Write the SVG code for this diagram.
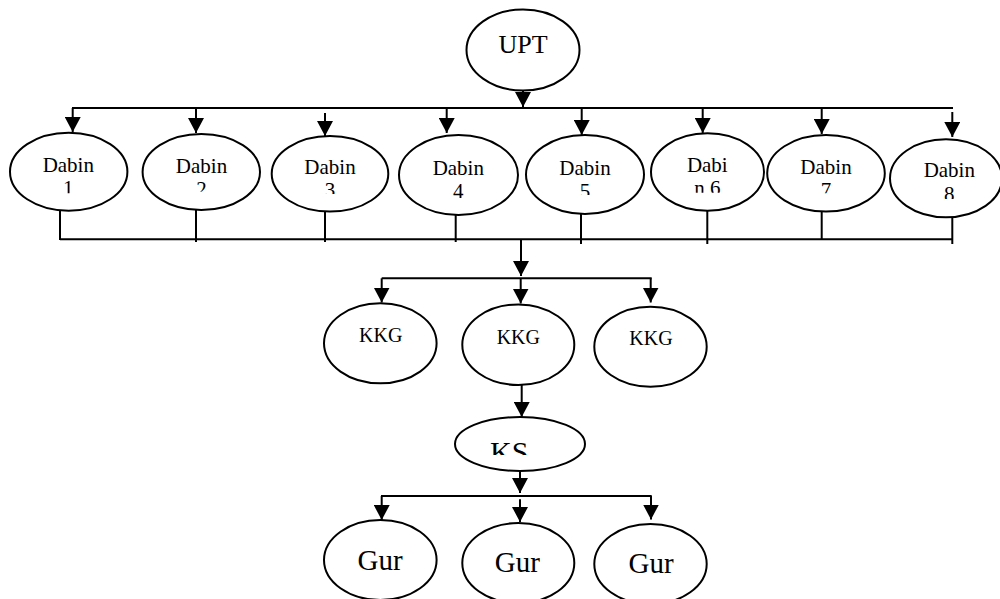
<svg xmlns="http://www.w3.org/2000/svg" width="1000" height="599" viewBox="0 0 1000 599">
<defs>
<style>
.n{fill:#fff;stroke:#000;stroke-width:2}
.t{font-family:"Liberation Serif","Times New Roman",serif;fill:#000;text-anchor:middle}
.d{font-size:21px}
.k{font-size:20px}
.c line{stroke:#000;stroke-width:2}
.a{marker-end:url(#ah)}
</style>
<marker id="ah" viewBox="0 -8 15 16" markerWidth="15" markerHeight="16" refX="15" refY="0" markerUnits="userSpaceOnUse" orient="auto">
<path d="M0,-8 L15,0 L0,8 z" fill="#000"/>
</marker>
<clipPath id="c1"><rect x="0" y="120" width="140" height="73.3"/></clipPath>
<clipPath id="c2"><rect x="140" y="120" width="125" height="71.7"/></clipPath>
<clipPath id="c3"><rect x="268" y="120" width="125" height="74"/></clipPath>
<clipPath id="c5"><rect x="522" y="120" width="125" height="75"/></clipPath>
<clipPath id="c6"><rect x="648" y="120" width="120" height="72.7"/></clipPath>
<clipPath id="c7"><rect x="765" y="120" width="122" height="73.3"/></clipPath>
<clipPath id="c8"><rect x="888" y="120" width="112" height="79"/></clipPath>
<clipPath id="cks"><rect x="455" y="417" width="130" height="38"/></clipPath>
</defs>

<text class="t" x="835" y="-6" style="font-size:28px">g</text>

<g class="c" id="connectors">
<line class="a" x1="523" y1="90" x2="523" y2="107"/>
<line x1="72" y1="108" x2="953" y2="108"/>
<line class="a" x1="72.7" y1="108" x2="72.7" y2="132"/>
<line class="a" x1="196" y1="108" x2="196" y2="133"/>
<line class="a" x1="325" y1="113" x2="325" y2="136"/>
<line class="a" x1="446.7" y1="108" x2="446.7" y2="133"/>
<line class="a" x1="581.7" y1="108" x2="581.7" y2="135"/>
<line class="a" x1="702.7" y1="108" x2="702.7" y2="133"/>
<line class="a" x1="821.7" y1="108" x2="821.7" y2="134"/>
<line class="a" x1="952.3" y1="112" x2="952.3" y2="137"/>

<line x1="60" y1="239.3" x2="953" y2="239.3"/>
<line x1="60" y1="211" x2="60" y2="240"/>
<line x1="196" y1="210" x2="196" y2="242"/>
<line x1="325" y1="211.5" x2="325" y2="242"/>
<line x1="455.7" y1="215" x2="455.7" y2="242"/>
<line x1="581" y1="214" x2="581" y2="244"/>
<line x1="707.3" y1="210.5" x2="707.3" y2="244"/>
<line x1="821.7" y1="211.5" x2="821.7" y2="240"/>
<line x1="952.3" y1="217" x2="952.3" y2="244"/>

<line class="a" x1="521" y1="239" x2="521" y2="276"/>
<line x1="381.7" y1="278.3" x2="651.7" y2="278.3"/>
<line class="a" x1="381.7" y1="278.3" x2="381.7" y2="302.5"/>
<line class="a" x1="520.7" y1="278.3" x2="520.7" y2="303.5"/>
<line class="a" x1="650.7" y1="278.3" x2="650.7" y2="302.5"/>

<line class="a" x1="521.7" y1="385" x2="521.7" y2="417"/>

<line class="a" x1="520" y1="470.7" x2="520" y2="493"/>
<line x1="381" y1="496" x2="651.7" y2="496"/>
<line class="a" x1="381.7" y1="496" x2="381.7" y2="520"/>
<line class="a" x1="520" y1="499.3" x2="520" y2="522"/>
<line class="a" x1="651" y1="496" x2="651" y2="519.5"/>
</g>

<g id="upt"><ellipse class="n" cx="523" cy="50" rx="56.5" ry="40.5"/><text class="t" x="523" y="53" style="font-size:26px">UPT</text></g>

<g id="dabin1"><ellipse class="n" cx="68.7" cy="171.7" rx="58.7" ry="39"/><g clip-path="url(#c1)"><text class="t d" x="68.3" y="172">Dabin</text><text class="t d" x="68.3" y="195">1</text></g></g>
<g id="dabin2"><ellipse class="n" cx="201.3" cy="172" rx="58.7" ry="38"/><g clip-path="url(#c2)"><text class="t d" x="201.5" y="173.3">Dabin</text><text class="t d" x="201.5" y="196.3">2</text></g></g>
<g id="dabin3"><ellipse class="n" cx="330" cy="173.8" rx="58.3" ry="37.8"/><g clip-path="url(#c3)"><text class="t d" x="330" y="174">Dabin</text><text class="t d" x="330" y="197">3</text></g></g>
<g id="dabin4"><ellipse class="n" cx="458.5" cy="175" rx="59.5" ry="40"/><text class="t d" x="458.3" y="175">Dabin</text><text class="t d" x="458.3" y="197.5">4</text></g>
<g id="dabin5"><ellipse class="n" cx="585" cy="174.5" rx="59" ry="39.5"/><g clip-path="url(#c5)"><text class="t d" x="585" y="175">Dabin</text><text class="t d" x="585" y="198">5</text></g></g>
<g id="dabin6"><ellipse class="n" cx="707.5" cy="172" rx="56.5" ry="38.7"/><g clip-path="url(#c6)"><text class="t d" x="707.3" y="171.7">Dabi</text><text class="t d" x="707.3" y="194.7">n 6</text></g></g>
<g id="dabin7"><ellipse class="n" cx="826" cy="173.3" rx="58.8" ry="38.3"/><g clip-path="url(#c7)"><text class="t d" x="826" y="174.3">Dabin</text><text class="t d" x="826" y="197.3">7</text></g></g>
<g id="dabin8"><ellipse class="n" cx="946" cy="178.3" rx="56" ry="39"/><g clip-path="url(#c8)"><text class="t d" x="949.3" y="177.3">Dabin</text><text class="t d" x="949.3" y="201">8</text></g></g>

<g id="kkg1"><ellipse class="n" cx="380.3" cy="343.3" rx="56.3" ry="40"/><text class="t k" x="380.7" y="341.7">KKG</text></g>
<g id="kkg2"><ellipse class="n" cx="518.3" cy="344.7" rx="56" ry="40.3"/><text class="t k" x="518.3" y="344">KKG</text></g>
<g id="kkg3"><ellipse class="n" cx="650.5" cy="346.7" rx="56.2" ry="40"/><text class="t k" x="651" y="345">KKG</text></g>

<g id="ks"><ellipse class="n" cx="520" cy="444" rx="65" ry="27"/><g clip-path="url(#cks)"><text class="t" x="509.3" y="461.5" style="font-size:30px">KS</text></g></g>

<g id="gur1"><ellipse class="n" cx="380.3" cy="560" rx="56.3" ry="40"/><text class="t" x="380" y="570" style="font-size:29px">Gur</text></g>
<g id="gur2"><ellipse class="n" cx="518.3" cy="563" rx="56" ry="40"/><text class="t" x="517.3" y="571.7" style="font-size:29px">Gur</text></g>
<g id="gur3"><ellipse class="n" cx="650.5" cy="564" rx="56.2" ry="40"/><text class="t" x="651" y="572.7" style="font-size:29px">Gur</text></g>
</svg>
